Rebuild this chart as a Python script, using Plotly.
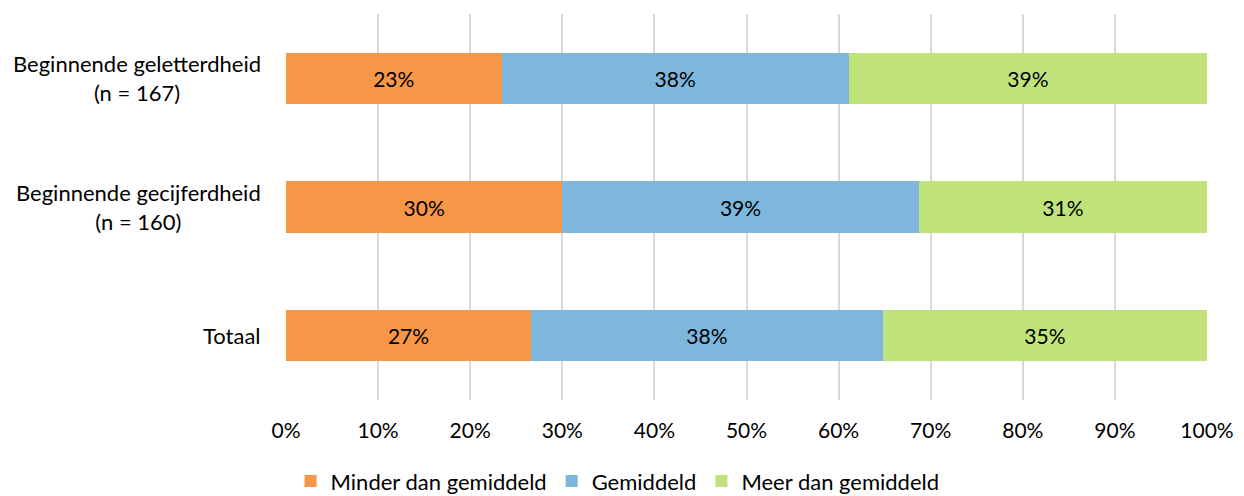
import plotly.graph_objects as go

categories = ["Beginnende geletterdheid<br>(n = 167)", "Beginnende gecijferdheid<br>(n = 160)", "Totaal"]
series_names = ["Minder dan gemiddeld", "Gemiddeld", "Meer dan gemiddeld"]
minder = [23.4, 30.0, 26.6]
gemiddeld = [37.7, 38.7, 38.2]
meer = [38.9, 31.3, 35.2]
colors = ["#F79646", "#7FB6DC", "#BFE27B"]
tick_vals = [0, 10, 20, 30, 40, 50, 60, 70, 80, 90, 100]
tick_text = [f"{v}%" for v in tick_vals]

FONT = "Lato, Open Sans, sans-serif"
fig = go.Figure()
for name, vals, col in zip(series_names, [minder, gemiddeld, meer], colors):
    fig.add_trace(go.Bar(
        y=list(range(len(categories))), x=vals, name=name, orientation="h",
        marker=dict(color=col, line=dict(width=0)),
        text=[f"{round(v)}%" for v in vals], textposition="inside",
        insidetextanchor="middle", textfont=dict(size=21, color="#000000", family=FONT),
        hoverinfo="skip",
    ))

for i, c in enumerate(categories):
    fig.add_annotation(x=-0.025, y=i, xref="paper", yref="y", text=c, showarrow=False,
                       xanchor="right", yanchor="middle", align="center",
                       font=dict(size=22, color="#000000", family=FONT))

fig.update_layout(
    barmode="stack", bargap=0.6,
    width=1244, height=496,
    margin=dict(l=278, r=45, t=6, b=104, autoexpand=False),
    plot_bgcolor="white", paper_bgcolor="white",
    font=dict(family=FONT, size=21, color="#000000"),
    legend=dict(orientation="h", xref="container", yref="container",
                x=0.49, xanchor="center", y=0.046, yanchor="middle",
                font=dict(size=22, family=FONT), traceorder="normal",
                itemwidth=30),
    xaxis=dict(range=[0, 100], tickvals=tick_vals, ticktext=tick_text,
               showgrid=True, gridcolor="#D9D9D9", gridwidth=2, zeroline=False,
               showline=False, ticks="", tickfont=dict(size=21), ticklabelstandoff=16,
               automargin=False),
    yaxis=dict(range=[2.5, -0.5], showticklabels=False, showgrid=False,
               zeroline=False, showline=False, automargin=False),
    uniformtext=dict(minsize=10, mode="show"),
)

fig.write_html("out.html")
